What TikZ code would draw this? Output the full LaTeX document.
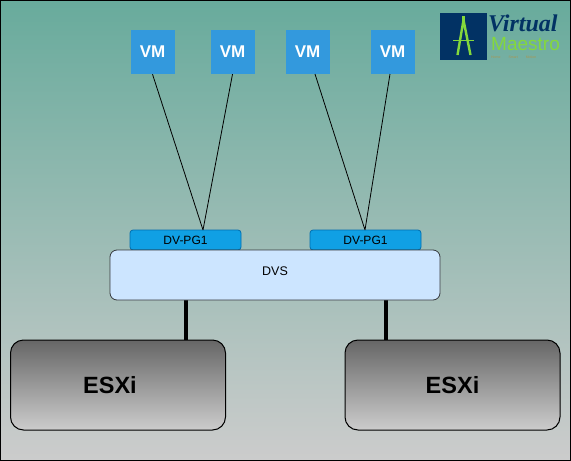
\documentclass[tikz,border=0pt]{standalone}
\usepackage{fontspec}
\setmainfont{Liberation Sans}
\newfontfamily\logofont{Liberation Serif}
\usetikzlibrary{positioning, calc}
\definecolor{cTeal}{RGB}{104,171,156}
\definecolor{cGrey}{RGB}{204,204,204}
\definecolor{cVm}{RGB}{51,153,221}
\definecolor{cPg}{RGB}{16,160,228}
\definecolor{cPgLine}{RGB}{0,110,175}
\definecolor{cDvs}{RGB}{204,229,255}
\definecolor{cDvsLine}{RGB}{54,57,61}
\definecolor{cLogo}{RGB}{2,50,100}
\definecolor{cLime}{RGB}{132,216,60}
\definecolor{cTiny}{RGB}{170,150,80}

\begin{document}
\begin{tikzpicture}[x=1pt, y=-1pt,
            vm/.style={rectangle, fill=cVm, text=white, font=\fontsize{17}{17}\selectfont\bfseries, minimum size=44pt, inner sep=0pt},
            pg/.style={rectangle, rounded corners=3pt, draw=cPgLine, line width=0.8pt, fill=cPg, minimum width=111pt, minimum height=20pt, inner sep=0pt, font=\fontsize{12}{12}\selectfont},
            esxi/.style={rectangle, rounded corners=13pt, draw=black, line width=1pt, top color=black!60, bottom color=black!20, minimum width=215pt, minimum height=90pt, inner sep=0pt},
            esxitext/.style={inner sep=0pt, font=\fontsize{23.5}{23.5}\selectfont\bfseries},
            vmlink/.style={draw=black, line width=0.8pt},
            uplink/.style={draw=black, line width=4pt}]
            \node[draw=black, line width=1pt, top color=cTeal, bottom color=cGrey, minimum width=570pt, minimum height=460pt, inner sep=0pt] (page) at (285.5,230.5) {};
            % logo
            \node[rectangle, fill=cLogo, minimum size=47pt, inner sep=0pt] (logobox) at (463.5,36.5) {};
            \draw[cLime, line width=2.4pt] (463.5,20) -- (457.5,55) (463.5,20) -- (470.5,55);
            \draw[cLime, line width=3pt] (463.5,16) -- (463.5,24);
            \draw[cLime, line width=0.8pt] (453,40) -- (474,40);
            \node[anchor=west, inner sep=0pt, text=cLogo, font=\logofont\fontsize{24}{24}\selectfont\bfseries\itshape] (logoa) at (488,23) {Virtual};
            \node[anchor=west, inner sep=0pt, text=cLime, font=\fontsize{19}{19}\selectfont] (logob) at (491,44) {Maestro};
            \node[anchor=west, inner sep=0pt, text=cTiny, font=\fontsize{3.5}{3.5}\selectfont] (logoc) at (491,57.5) {Home \quad\quad Smart \quad\quad Motion};
            % uplinks
            \coordinate (dvsa) at (186,300);
            \coordinate (dvsb) at (386,300);
            \coordinate (esxa) at (186,340);
            \coordinate (esxb) at (386,340);
            \draw[uplink] (dvsa) -- (esxa);
            \draw[uplink] (dvsb) -- (esxb);
            \foreach \n/\x in {vma/152.5,vmb/232.5,vmc/307.5,vmd/392.5}{
                \node[vm] (\n) at (\x,52) {VM};}
            \node[pg] (pga) at (185.5,240) {DV-PG1};
            \node[pg] (pgb) at (365.5,240) {DV-PG1};
            \node[rectangle, rounded corners=7pt, draw=cDvsLine, line width=0.8pt, fill=cDvs, minimum width=330pt, minimum height=50pt, inner sep=0pt] (dvs) at (275,275) {};
            \node[font=\fontsize{12.5}{12.5}\selectfont, inner sep=0pt] (dvslabel) at (275,271) {DVS};
            \node[esxi] (esa) at (118,385) {};
            \node[esxi] (esb) at (452.5,385) {};
            \node[esxitext] (esalabel) at (110,385) {ESXi};
            \node[esxitext] (esblabel) at (452.5,385) {ESXi};
            \coordinate (pgain) at (203,230);
            \coordinate (pgbin) at (365,230);
            \coordinate (vmcout) at (315,74);
            \coordinate (vmdout) at (390,74);
            \draw[vmlink] (vma.south) -- (pgain) (vmb.south) -- (pgain);
            \draw[vmlink] (vmcout) -- (pgbin) (vmdout) -- (pgbin);
\end{tikzpicture}
\end{document}
